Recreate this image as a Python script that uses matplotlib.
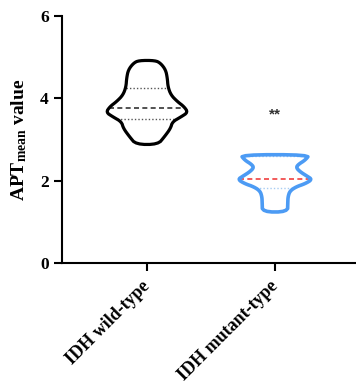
import numpy as np
import matplotlib
matplotlib.use("Agg")
import matplotlib.pyplot as plt

categories = ["IDH wild-type", "IDH mutant-type"]

# violin outline profiles: y levels and half-widths (density scaled)
wt_y = [2.88, 3.07, 3.27, 3.43, 3.55, 3.66, 3.80, 3.92, 4.08, 4.28, 4.49, 4.69, 4.85, 4.92]
wt_w = [0.086, 0.137, 0.184, 0.199, 0.266, 0.32, 0.289, 0.238, 0.1875, 0.164, 0.159, 0.146, 0.107, 0.065]
wt_median = 3.76
wt_quartiles = [3.49, 4.25]

mt_y = [1.24, 1.46, 1.61, 1.75, 1.85, 1.93, 2.03, 2.11, 2.22, 2.32, 2.40, 2.50, 2.63]
mt_w = [0.098, 0.10, 0.102, 0.117, 0.165, 0.238, 0.29, 0.25, 0.195, 0.165, 0.185, 0.236, 0.27]
mt_median = 2.04
mt_quartiles = [1.82, 2.60]

yticks = [0, 2, 4, 6]
sig_text = "**"
sig_y = 3.6

plt.rcParams['font.family'] = ['Liberation Serif', 'DejaVu Serif']
plt.rcParams['font.weight'] = 'bold'
plt.rcParams['mathtext.fontset'] = 'custom'
plt.rcParams['mathtext.rm'] = 'Liberation Serif:bold'
plt.rcParams['mathtext.bf'] = 'Liberation Serif:bold'
plt.rcParams['mathtext.it'] = 'Liberation Serif:bold'

fig = plt.figure(figsize=(3.56, 3.81), dpi=100)
ax = fig.add_axes([62/356, 118/381, 1 - 62/356, 247/381])


def chaikin(x, y, n=2):
    # smooth a closed polygon for rendering only
    for _ in range(n):
        x2 = np.roll(x, -1); y2 = np.roll(y, -1)
        qx = 0.75 * x + 0.25 * x2; qy = 0.75 * y + 0.25 * y2
        rx = 0.25 * x + 0.75 * x2; ry = 0.25 * y + 0.75 * y2
        x = np.column_stack([qx, rx]).ravel(); y = np.column_stack([qy, ry]).ravel()
    return x, y


def violin(pos, ys, ws, med, qs, edge, medc, qc, lw, n):
    ys = np.array(ys); ws = np.array(ws)
    xs = np.concatenate([pos - ws, (pos + ws)[::-1]])
    yy = np.concatenate([ys, ys[::-1]])
    xs, yy = chaikin(xs, yy, n)
    ax.fill(xs, yy, facecolor='none', edgecolor=edge, linewidth=lw, joinstyle='round', zorder=3)
    w = np.interp(med, ys, ws)
    ax.plot([pos - w, pos + w], [med, med], color=medc, linestyle=(0, (3, 2)), linewidth=1.2, zorder=2)
    for q in qs:
        w = np.interp(q, ys, ws)
        ax.plot([pos - w, pos + w], [q, q], color=qc, linestyle=(0, (1, 1.5)), linewidth=1.0, zorder=2)


violin(0, wt_y, wt_w, wt_median, wt_quartiles, 'black', '#333333', '#555555', 2.3, 2)
violin(1, mt_y, mt_w, mt_median, mt_quartiles, '#4C9BF4', '#F04040', '#A8CCF2', 2.6, 2)

ax.text(1, sig_y, sig_text, ha='center', va='center', fontsize=11, color='#333333',
        family=['Liberation Sans', 'DejaVu Sans'])

ax.set_xlim(-0.664, 1.633)
ax.set_ylim(0, 6)
ax.set_yticks(yticks)
ax.set_yticklabels([str(t) for t in yticks], fontsize=12.5, fontweight='bold')
ax.set_xticks([0, 1])
ax.set_xticklabels(categories, rotation=45, ha='right', va='center', rotation_mode='anchor',
                   fontsize=13, fontweight='bold')
for s in ['top', 'right']:
    ax.spines[s].set_visible(False)
for s in ['left', 'bottom']:
    ax.spines[s].set_linewidth(1.5)
ax.tick_params(axis='both', width=1.5, length=6, direction='out')
ax.tick_params(axis='x', pad=9)
ax.set_ylabel(r'APT$_{\mathrm{mean}}$ value', fontsize=14, fontweight='bold', labelpad=8)

fig.savefig('out.png', dpi=100)
